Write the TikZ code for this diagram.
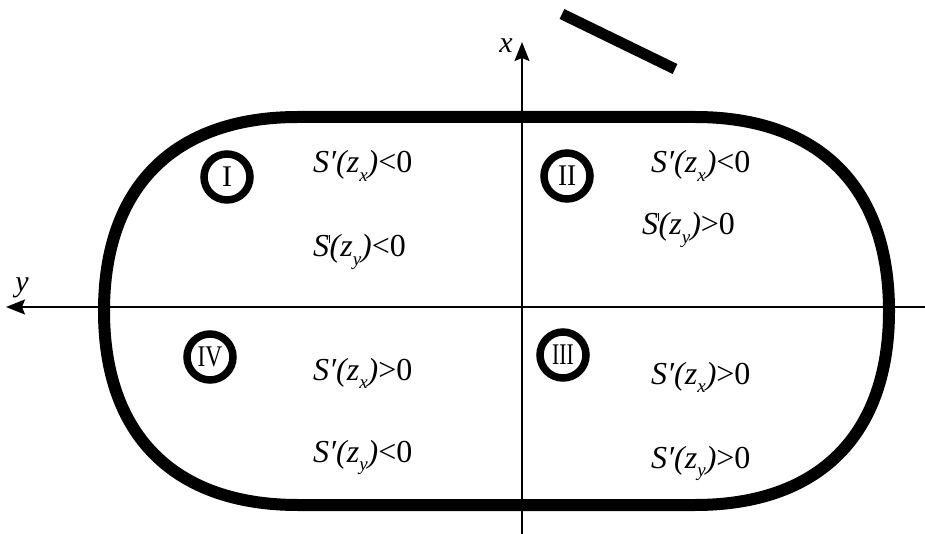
\documentclass[tikz,border=0pt]{standalone}
\usepackage{fontspec}
\setmainfont{Liberation Serif}[ItalicFont={Liberation Serif Italic}, BoldFont={Liberation Serif Bold}]
\usetikzlibrary{arrows.meta}
\newcommand{\mypr}{\char"2032}
\newcommand{\myvbar}{\rule[0.43em]{0.5pt}{0.26em}}
\newcommand{\mysub}[1]{\raisebox{-0.28em}{\fontsize{19}{19}\selectfont #1}}
\tikzset{
  lbl/.style={anchor=base west, inner sep=0pt, font=\fontsize{32}{32}\selectfont\itshape},
  roman/.style={circle, draw, line width=7.5pt, minimum size=46pt, inner sep=0pt, font=\fontsize{30}{30}\selectfont},
  axis/.style={line width=1.8pt, -{Stealth[length=19pt,width=15pt,inset=3pt]}},
  axlbl/.style={inner sep=0pt, font=\fontsize{30}{30}\selectfont\itshape}
}
\begin{document}
\begin{tikzpicture}[x=1pt,y=-1pt]
\useasboundingbox (0,0) rectangle (925,534);
% stadium
\draw[line width=12pt] (298,117) -- (695,117)
  .. controls (819,117) and (889,187) .. (889,311)
  .. controls (889,435) and (819,505) .. (695,505)
  -- (298,505)
  .. controls (174,505) and (104,435) .. (104,311)
  .. controls (104,187) and (174,117) .. (298,117) -- cycle;
% slanted bar
\coordinate (b1) at (562,14);
\coordinate (b2) at (675,69);
\draw[line width=11pt] (b1) -- (b2);
% axes
\coordinate (xs) at (522,534);
\coordinate (xe) at (522,42);
\coordinate (ys) at (925,307);
\coordinate (ye) at (6,307);
\draw[axis] (xs) -- (xe);
\draw[axis] (ys) -- (ye);
\node[axlbl] (xl) at (506,46) {x};
\node[axlbl] (yl) at (22,288) {y};
% quadrant circles
\node[roman] (q1) at (227,177) {I};
\node[roman] (q2) at (567,176) {\scalebox{0.9}[1]{II}};
\node[roman] (q4) at (210,357) {\scalebox{0.78}[1]{IV}};
\node[roman] (q3) at (563,355) {\scalebox{0.72}[1]{III}};
% labels
\node[lbl] (t1a) at (313,173) {S\mypr(z\mysub{x})\upshape{<}0};
\node[lbl] (t1b) at (313,257) {S\myvbar(z\mysub{y})\upshape{<}0};
\node[lbl] (t2a) at (651,173) {S\mypr(z\mysub{x})\upshape{<}0};
\node[lbl] (t2b) at (642,235) {S\myvbar(z\mysub{y})\upshape{>}0};
\node[lbl] (t4a) at (313,380) {S\mypr(z\mysub{x})\upshape{>}0};
\node[lbl] (t4b) at (313,462) {S\mypr(z\mysub{y})\upshape{<}0};
\node[lbl] (t3a) at (651,384) {S\mypr(z\mysub{x})\upshape{>}0};
\node[lbl] (t3b) at (651,468) {S\mypr(z\mysub{y})\upshape{>}0};
\end{tikzpicture}
\end{document}
